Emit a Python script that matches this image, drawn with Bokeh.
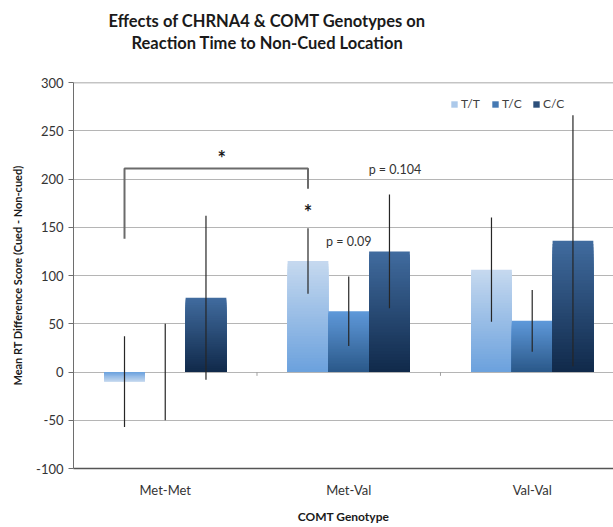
import numpy as np
from bokeh.plotting import figure
from bokeh.models import FixedTicker, Span, Title, Legend, LegendItem, Label
from bokeh.embed import file_html
from bokeh.resources import INLINE

# COMT genotype groups and CHRNA4 allele series
genotypes = ["Met-Met", "Met-Val", "Val-Val"]
alleles = ["T/T", "T/C", "C/C"]

# mean RT difference score (cued - non-cued) and error bar half-lengths
tt_mean = [-10, 115, 106]
tt_err = [47, 34, 54]
tc_mean = [0, 63, 53]
tc_err = [50, 36, 32]
cc_mean = [77, 125, 136]
cc_err = [85, 59, 130]

y_ticks = [-100, -50, 0, 50, 100, 150, 200, 250, 300]

# significance annotations
bracket_levels = [138, 211, 211, 190]
star_top = 222
star_tt = 166
p_tc_text, p_tc_y = "p = 0.09", 135
p_cc_text, p_cc_y = "p = 0.104", 210

title_lines = ["Effects of CHRNA4 & COMT Genotypes on",
               "Reaction Time to Non-Cued Location"]

FONT = "Lato"
TEXT = "#333333"

# gradient (top colour, bottom colour) for each series, and the
# gradient position used for its legend swatch
gradients = [("#c6d9ef", "#6ba1dd"), ("#5f99da", "#2a5889"), ("#416c9f", "#10294a")]
swatch_pos = [0.72, 0.5, 0.55]

means = [tt_mean, tc_mean, cc_mean]
errs = [tt_err, tc_err, cc_err]

bar_w = 0.222
offsets = [-bar_w, 0.0, bar_w]
x_base = np.arange(len(genotypes), dtype=float)

p = figure(width=613, height=527, x_range=(-0.5, 2.443), y_range=(-100, 300),
           output_backend="svg", toolbar_location=None,
           min_border_left=73, min_border_right=0, min_border_top=82,
           min_border_bottom=59)
p.outline_line_color = None
p.background_fill_color = "white"
p.border_fill_color = "white"

# two-line title: a blank spacer next to the frame, then the two lines
title_kw = dict(align="left", vertical_align="bottom", text_font=FONT,
                text_font_size="16.5px", text_font_style="bold", text_color="#1a1a1a")
p.add_layout(Title(text=" ", text_font_size="2px", standoff=26), "above")
p.add_layout(Title(text=title_lines[1], offset=58, standoff=0, **title_kw), "above")
p.title.text = title_lines[0]
for k, v in title_kw.items():
    setattr(p.title, k, v)
p.title.offset = 35
p.title.standoff = 0

# grid
p.xgrid.grid_line_color = None
p.ygrid.ticker = FixedTicker(ticks=y_ticks)
p.ygrid.grid_line_color = "#b5b5b5"
p.ygrid.grid_line_width = 1
p.add_layout(Span(location=y_ticks[-1], dimension="width", line_color="#8a8a8a", line_width=1.5))

# y axis
p.yaxis.ticker = FixedTicker(ticks=y_ticks)
p.yaxis.major_label_overrides = {t: str(t) for t in y_ticks}
p.yaxis.minor_tick_line_color = None
p.yaxis.major_tick_in = 0
p.yaxis.major_tick_out = 5
p.yaxis.major_tick_line_color = "#6e6e6e"
p.yaxis.axis_line_color = "#6e6e6e"
p.yaxis.major_label_text_font = FONT
p.yaxis.major_label_text_font_size = "13px"
p.yaxis.major_label_text_color = TEXT
p.yaxis.major_label_standoff = 5
p.yaxis.axis_label = "Mean RT Difference Score (Cued - Non-cued)"
p.yaxis.axis_label_text_font = FONT
p.yaxis.axis_label_text_font_size = "11px"
p.yaxis.axis_label_text_font_style = "bold"
p.yaxis.axis_label_text_color = "#1a1a1a"
p.yaxis.axis_label_standoff = 9

# x axis (category labels at the bottom)
p.xaxis.ticker = FixedTicker(ticks=list(x_base))
p.xaxis.major_label_overrides = {i: g for i, g in enumerate(genotypes)}
p.xaxis.major_tick_line_color = None
p.xaxis.minor_tick_line_color = None
p.xaxis.major_tick_out = 0
p.xaxis.major_tick_in = 0
p.xaxis.axis_line_color = "#555555"
p.xaxis.axis_line_width = 1.5
p.xaxis.major_label_text_font = FONT
p.xaxis.major_label_text_font_size = "13px"
p.xaxis.major_label_text_color = TEXT
p.xaxis.major_label_standoff = 13
p.xaxis.axis_label = "COMT Genotype"
p.xaxis.axis_label_text_font = FONT
p.xaxis.axis_label_text_font_size = "12px"
p.xaxis.axis_label_text_font_style = "bold"
p.xaxis.axis_label_text_color = "#1a1a1a"
p.xaxis.axis_label_standoff = 8


def mix(c1, c2, t):
    a = np.array([int(c1[i:i + 2], 16) for i in (1, 3, 5)], dtype=float)
    b = np.array([int(c2[i:i + 2], 16) for i in (1, 3, 5)], dtype=float)
    c = a + (b - a) * t
    return "#%02x%02x%02x" % tuple(int(round(v)) for v in c)


# bars with a vertical gradient: nested layers from the baseline up to
# successively lower levels, the outermost (lightest end) drawn first
N = 40
bar_renderers = []
swatch_index = []
for s, (m, (top_c, bot_c)) in enumerate(zip(means, gradients)):
    xs = x_base + offsets[s]
    left, right, bottom, top, colors = [], [], [], [], []
    for xc, v in zip(xs, m):
        if v == 0:
            continue
        edges = np.linspace(0, v, N + 1)
        for k in range(N - 1, -1, -1):
            t = (k + 0.5) / N
            left.append(xc - bar_w / 2)
            right.append(xc + bar_w / 2)
            bottom.append(0.0)
            top.append(edges[k + 1])
            colors.append(mix(bot_c, top_c, t))
    r = p.quad(left=left, right=right, bottom=bottom, top=top,
               fill_color=colors, line_color=None)
    bar_renderers.append(r)
    # layer index (within the last bar of the series) for the legend swatch
    swatch_index.append(len(colors) - 1 - int(swatch_pos[s] * N))

# error bars
for s, (m, e) in enumerate(zip(means, errs)):
    xs = x_base + offsets[s]
    lo = [a - b for a, b in zip(m, e)]
    hi = [a + b for a, b in zip(m, e)]
    p.segment(x0=xs, y0=lo, x1=xs, y1=hi, line_color="#262626", line_width=1.2)

# small category separator ticks on the zero line
sep = x_base[:-1] + 0.5
p.segment(x0=sep, y0=[0] * len(sep), x1=sep, y1=[-4] * len(sep),
          line_color="#a0a0a0", line_width=1)

# significance bracket between Met-Met T/T and Met-Val T/T
bx0 = x_base[0] + offsets[0]
bx1 = x_base[1] + offsets[0]
p.line(x=[bx0, bx0, bx1, bx1], y=bracket_levels, line_color="#6b6b6b", line_width=2)

lbl_kw = dict(text_font=FONT, text_align="center", text_baseline="middle")
p.add_layout(Label(x=(bx0 + bx1) / 2 + 0.03, y=star_top, text="*", text_font_size="20px",
                   text_font_style="bold", text_color="#1a1a1a", **lbl_kw))
p.add_layout(Label(x=bx1, y=star_tt, text="*", text_font_size="20px",
                   text_font_style="bold", text_color="#1a1a1a", **lbl_kw))
p.add_layout(Label(x=x_base[1], y=p_tc_y, text=p_tc_text, text_font_size="12.5px",
                   text_color=TEXT, **lbl_kw))
p.add_layout(Label(x=x_base[1] + 0.252, y=p_cc_y, text=p_cc_text, text_font_size="12.5px",
                   text_color=TEXT, **lbl_kw))

# legend with square swatches taken from the bar gradients
items = [LegendItem(label=name, renderers=[r], index=i)
         for name, r, i in zip(alleles, bar_renderers, swatch_index)]
legend = Legend(items=items, orientation="horizontal", location=(377, 357),
                glyph_width=8, glyph_height=8, label_standoff=3, spacing=10,
                padding=0, margin=0, border_line_color=None, background_fill_alpha=0,
                label_text_font=FONT, label_text_font_size="12px",
                label_text_color="#404040", label_height=14)
p.add_layout(legend, "center")

open("out.html", "w").write(file_html(p, INLINE))
